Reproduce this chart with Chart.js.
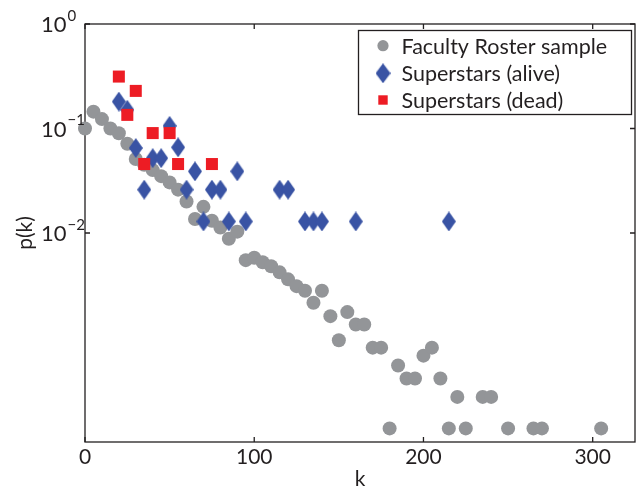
<!DOCTYPE html>
<html>
<head>
<meta charset="utf-8">
<script src="https://cdn.jsdelivr.net/npm/chart.js@4.4.1/dist/chart.umd.min.js"></script>
<style>
  html, body { margin: 0; padding: 0; background: #fff; }
  #wrap { width: 638px; height: 490px; }
</style>
</head>
<body>
<div id="wrap"><canvas id="chart" width="638" height="490"></canvas></div>
<script>
// data (k, p(k))
const facultyK = [0, 5, 10, 15, 20, 25, 30, 35, 40, 45, 50, 55, 60, 65, 70, 75, 80, 85, 90, 95,
  100, 105, 110, 115, 120, 125, 130, 135, 140, 145, 150, 155, 160, 165, 170, 175, 180, 185, 190, 195,
  200, 205, 210, 215, 220, 225, 235, 240, 250, 265, 270, 305];
const facultyP = [0.100, 0.145, 0.123, 0.100, 0.090, 0.0714, 0.051, 0.045, 0.040, 0.035, 0.0305, 0.026, 0.020, 0.0136, 0.0178, 0.0131, 0.0113, 0.0088, 0.0103, 0.0055,
  0.0058, 0.00525, 0.0048, 0.0042, 0.0036, 0.0031, 0.0028, 0.00215, 0.0028, 0.0016, 0.00094, 0.00175, 0.00133, 0.00133, 0.0008, 0.0008, 0.000135, 0.00054, 0.000405, 0.000405,
  0.00067, 0.0008, 0.000405, 0.000135, 0.00027, 0.000135, 0.00027, 0.00027, 0.000135, 0.000135, 0.000135, 0.000135];

const aliveK = [20, 25, 30, 35, 40, 45, 50, 55, 60, 65, 70, 75, 80, 85, 90, 95, 115, 120, 130, 135, 140, 160, 215];
const aliveP = [0.181, 0.151, 0.065, 0.026, 0.052, 0.052, 0.106, 0.066, 0.026, 0.0389, 0.0129, 0.026, 0.026, 0.0129, 0.0389, 0.0129,
  0.026, 0.026, 0.0129, 0.0129, 0.0129, 0.0129, 0.0129];

const deadK = [20, 25, 30, 35, 40, 50, 55, 75];
const deadP = [0.314, 0.135, 0.229, 0.0457, 0.0904, 0.0904, 0.0457, 0.0457];

const seriesLabels = ['Faculty Roster sample', 'Superstars (alive)', 'Superstars (dead)'];
const xTicks = [0, 100, 200, 300];
const yTickExps = [0, -1, -2];

const FONT = 'Lato, sans-serif';
const INK = '#231f20';
const GRAY = '#939598', BLUE = '#3953a4', RED = '#ed1c24';

function diamond(w, h, color) {
  const c = document.createElement('canvas');
  c.width = w; c.height = h;
  const g = c.getContext('2d');
  g.fillStyle = color;
  g.beginPath();
  g.moveTo(w / 2, 0); g.lineTo(w, h / 2); g.lineTo(w / 2, h); g.lineTo(0, h / 2);
  g.closePath();
  g.fill();
  return c;
}
const diamondImg = diamond(14, 20, BLUE);

const pts = (xs, ys) => xs.map((x, i) => ({ x: x, y: ys[i] }));

// box + inward tick marks on all four sides
const frame = {
  id: 'frame',
  beforeDatasetsDraw(chart) {
    const ctx = chart.ctx;
    const { left, right, top, bottom } = chart.chartArea;
    const xs = chart.scales.x, ys = chart.scales.y;
    ctx.save();
    ctx.strokeStyle = INK;
    ctx.lineWidth = 1.3;
    ctx.strokeRect(left, top, right - left, bottom - top);
    ctx.beginPath();
    xs.ticks.forEach(t => {
      const x = xs.getPixelForValue(t.value);
      ctx.moveTo(x, bottom); ctx.lineTo(x, bottom - 5);
      ctx.moveTo(x, top); ctx.lineTo(x, top + 5);
    });
    yTickExps.forEach(e => {
      const y = ys.getPixelForValue(Math.pow(10, e));
      ctx.moveTo(left, y); ctx.lineTo(left + 5, y);
      ctx.moveTo(right, y); ctx.lineTo(right - 5, y);
    });
    ctx.stroke();
    ctx.restore();
  }
};

// 10^e labels, left aligned like the original
const yLabels = {
  id: 'yLabels',
  afterDraw(chart) {
    const ctx = chart.ctx;
    const ys = chart.scales.y;
    ctx.save();
    ctx.fillStyle = INK;
    ctx.textBaseline = 'middle';
    ctx.textAlign = 'left';
    yTickExps.forEach(e => {
      const y = ys.getPixelForValue(Math.pow(10, e));
      ctx.font = '22px ' + FONT;
      ctx.fillText('10', 41, y + 1);
      const w = ctx.measureText('10').width;
      ctx.font = '15px ' + FONT;
      ctx.fillText(e < 0 ? '\u2212' + (-e) : String(e), 41 + w + 1, y - 8);
    });
    ctx.restore();
  }
};

const legendBox = {
  id: 'legendBox',
  afterDraw(chart) {
    const ctx = chart.ctx;
    const x0 = 358.5, y0 = 30.5, w = 273, h = 84;
    ctx.save();
    ctx.fillStyle = '#fff';
    ctx.fillRect(x0, y0, w, h);
    ctx.strokeStyle = INK;
    ctx.lineWidth = 1.3;
    ctx.strokeRect(x0, y0, w, h);
    const mx = 383, rows = [45.7, 73.3, 100];
    ctx.fillStyle = GRAY;
    ctx.beginPath(); ctx.arc(mx, rows[0], 5.6, 0, Math.PI * 2); ctx.fill();
    ctx.drawImage(diamondImg, mx - 7.5, rows[1] - 10, 15, 20);
    ctx.fillStyle = RED;
    ctx.fillRect(mx - 4.7, rows[2] - 4.7, 9.4, 9.4);
    ctx.fillStyle = INK;
    ctx.font = '21.5px ' + FONT;
    ctx.textBaseline = 'middle';
    chart.data.datasets.forEach((d, i) => ctx.fillText(d.label, 401.5, rows[i] + 1));
    ctx.restore();
  }
};

new Chart(document.getElementById('chart'), {
  type: 'scatter',
  data: {
    datasets: [
      { label: seriesLabels[0], data: pts(facultyK, facultyP), order: 3, clip: false,
        pointStyle: 'circle', pointRadius: 7, backgroundColor: GRAY, borderWidth: 0 },
      { label: seriesLabels[1], data: pts(aliveK, aliveP), order: 2, clip: false,
        pointStyle: diamondImg, backgroundColor: BLUE, borderWidth: 0 },
      { label: seriesLabels[2], data: pts(deadK, deadP), order: 1, clip: false,
        pointStyle: 'rect', pointRadius: 8.5, backgroundColor: RED, borderWidth: 0 }
    ]
  },
  options: {
    responsive: false,
    animation: false,
    devicePixelRatio: 1,
    layout: { autoPadding: false, padding: { left: 0, top: 24, right: 3, bottom: 0 } },
    plugins: { legend: { display: false }, tooltip: { enabled: false } },
    scales: {
      x: {
        type: 'linear', min: 0, max: 325,
        afterBuildTicks: s => { s.ticks = xTicks.map(v => ({ value: v })); },
        afterFit: s => { s.height = 48; s.paddingLeft = 0; s.paddingRight = 0; },
        grid: { display: false, drawTicks: false }, border: { display: false },
        ticks: { color: INK, padding: 3, font: { family: FONT, size: 21 } },
        title: { display: true, text: 'k', color: INK, padding: { top: 0, bottom: 0 },
          font: { family: FONT, size: 21, lineHeight: 1 } }
      },
      y: {
        type: 'logarithmic', min: 1e-4, max: 1,
        afterFit: s => { s.width = 85; s.paddingTop = 0; s.paddingBottom = 0; },
        grid: { display: false, drawTicks: false }, border: { display: false },
        ticks: { display: false },
        title: { display: true, text: 'p(k)', color: INK, padding: { top: 14.5, bottom: 0 },
          font: { family: FONT, size: 21, lineHeight: 1 } }
      }
    }
  },
  plugins: [frame, yLabels, legendBox]
});
</script>
</body>
</html>
